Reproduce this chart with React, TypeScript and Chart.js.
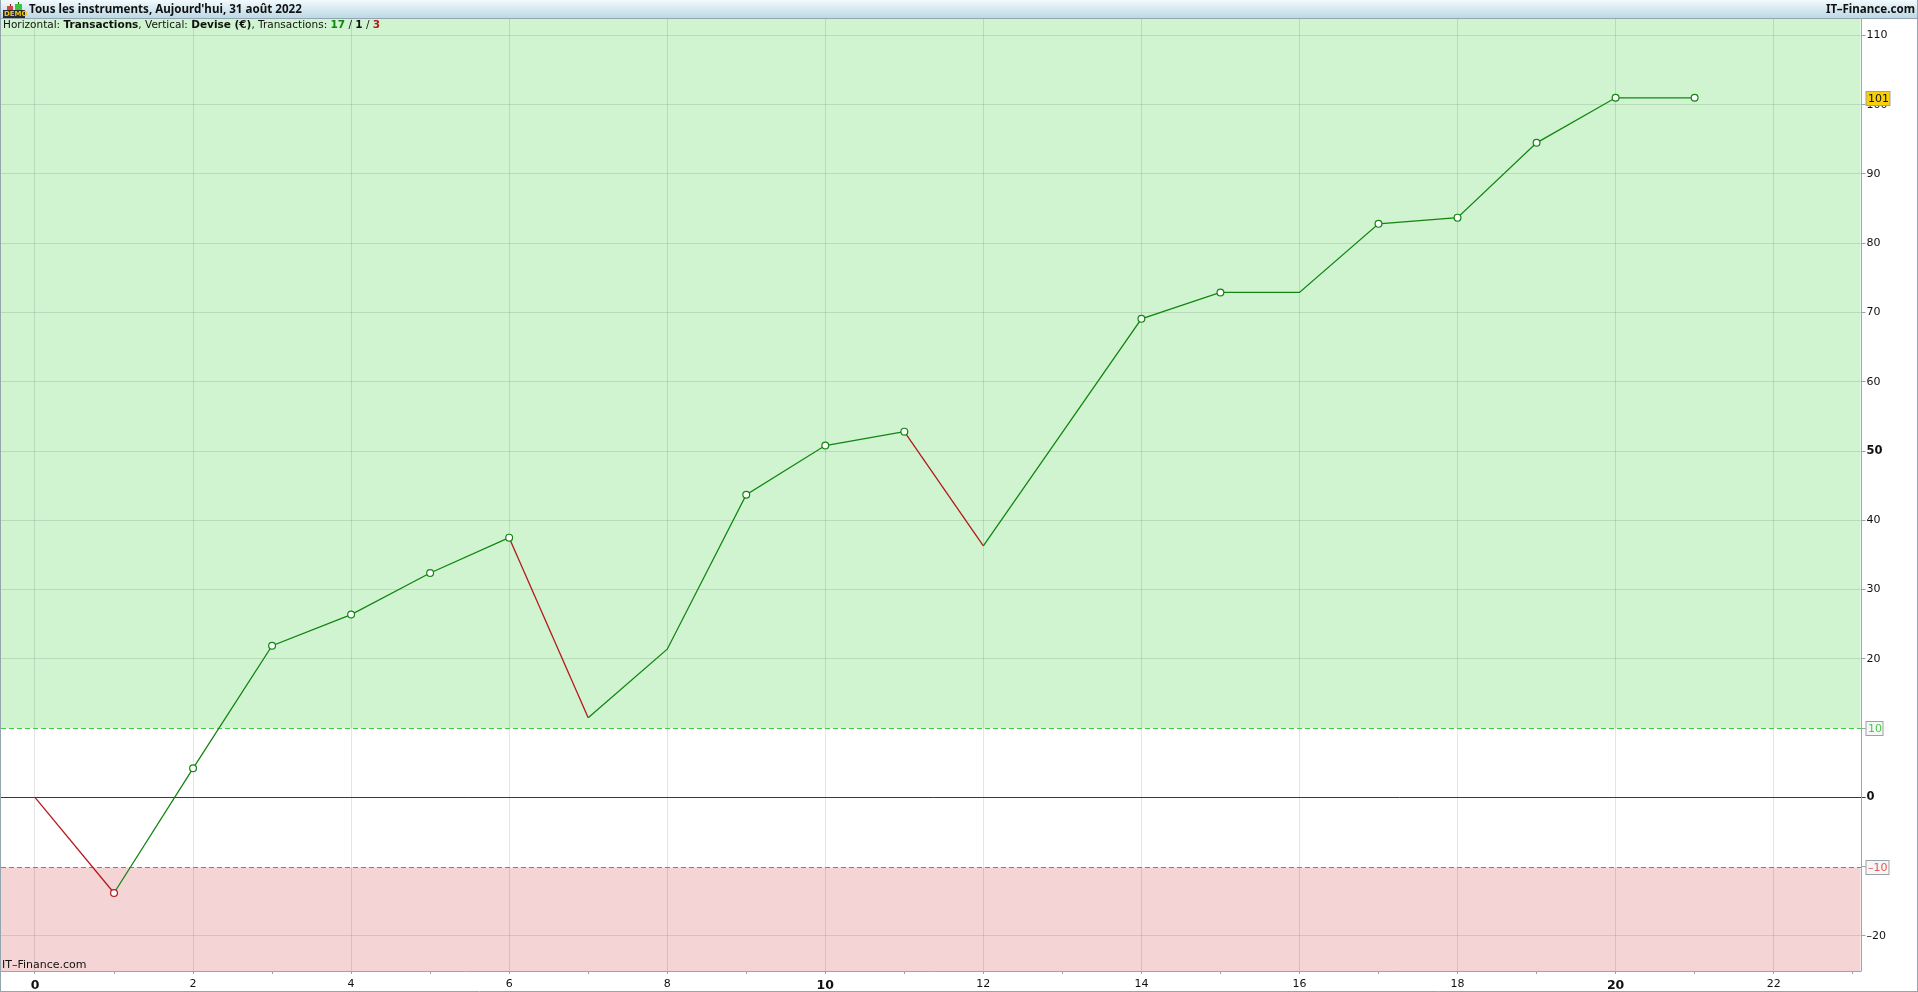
import React, { useEffect, useRef } from "react";
import { Chart, registerables } from "chart.js";

Chart.register(...registerables);

const tradeIndex = [0, 1, 2, 3, 4, 5, 6, 7, 8, 9, 10, 11, 12, 13, 14, 15, 16, 17, 18, 19, 20, 21];
const equity = [0, -13.8, 4.2, 21.9, 26.4, 32.4, 37.5, 11.5, 21.4, 43.7, 50.8, 52.8, 36.3, 52.7, 69.1, 72.9, 72.9, 82.8, 83.7, 94.5, 101, 101];
const markedPoints = [1, 2, 3, 4, 5, 6, 9, 10, 11, 14, 15, 17, 18, 19, 20, 21];
const losingSegments = [0, 6, 11];
const xTickValues = [0, 1, 2, 3, 4, 5, 6, 7, 8, 9, 10, 11, 12, 13, 14, 15, 16, 17, 18, 19, 20, 21, 22, 23];
const yTickValues = [-20, -10, 0, 10, 20, 30, 40, 50, 60, 70, 80, 90, 100, 110];
const boldX = [0, 10, 20];
const boldY = [0, 50];
const upperLimit = 10;
const lowerLimit = -10;
const lastValueLabel = "101";
const titleText = "Tous les instruments, Aujourd'hui, 31 août 2022";
const brandText = "IT–Finance.com";

const FONT = '"DejaVu Sans"';
const TITLE_FONT = '"Noto Sans"';
const GREEN = "#128512";
const RED = "#b3191f";

const decor = {
  id: "decor",
  beforeDraw(chart: any) {
    const { ctx, chartArea: a, scales } = chart;
    const y = scales.y;
    const yUp = Math.round(y.getPixelForValue(upperLimit)) + 0.5;
    const yDn = Math.round(y.getPixelForValue(lowerLimit)) + 0.5;
    ctx.save();
    ctx.fillStyle = "#fff";
    ctx.fillRect(0, 0, chart.width, chart.height);
    ctx.fillStyle = "#d0f4d0";
    ctx.fillRect(a.left, a.top, a.width, yUp - a.top);
    ctx.fillStyle = "#f4d4d4";
    ctx.fillRect(a.left, yDn, a.width, a.bottom - yDn);
    ctx.restore();
  },
  beforeDatasetsDraw(chart: any) {
    const { ctx, chartArea: a, scales } = chart;
    const y = scales.y;
    const hline = (v: number, color: string, dash: number[]) => {
      const p = Math.round(y.getPixelForValue(v)) + 0.5;
      ctx.save();
      ctx.strokeStyle = color;
      ctx.lineWidth = 1;
      ctx.setLineDash(dash);
      ctx.beginPath();
      ctx.moveTo(a.left, p);
      ctx.lineTo(a.right + 5, p);
      ctx.stroke();
      ctx.restore();
    };
    hline(upperLimit, "#45cc45", [5, 3]);
    hline(lowerLimit, "#e85555", [5, 3]);
    hline(0, "#2a2ab8", []);
  },
  afterDraw(chart: any) {
    const { ctx, chartArea: a, scales, width: W, height: H } = chart;
    const y = scales.y;
    ctx.save();
    // title bar
    const g = ctx.createLinearGradient(0, 0, 0, 18);
    g.addColorStop(0, "#f2fafd");
    g.addColorStop(1, "#bcd9e6");
    ctx.fillStyle = g;
    ctx.fillRect(0, 0, W, 18);
    ctx.fillStyle = "#93a6b0";
    ctx.fillRect(0, 18, W, 1);
    // demo icon
    ctx.fillStyle = "#7a1f1f";
    ctx.fillRect(10, 4, 1, 2);
    ctx.fillStyle = "#d04545";
    ctx.fillRect(7, 6, 6, 4);
    ctx.fillStyle = "#14621a";
    ctx.fillRect(18, 2, 1, 2);
    ctx.fillStyle = "#3cc43c";
    ctx.fillRect(15, 4, 7, 6);
    ctx.fillStyle = "#2b2b2b";
    ctx.fillRect(3, 10, 22, 8);
    ctx.fillStyle = "#f4c612";
    ctx.font = `bold 7px ${FONT}`;
    ctx.textAlign = "left";
    ctx.textBaseline = "middle";
    ctx.fillText("DEMO", 4, 14.5);
    // titles
    ctx.fillStyle = "#111";
    ctx.font = `bold 11.6px ${TITLE_FONT}`;
    ctx.fillText(titleText, 29, 10);
    ctx.textAlign = "right";
    ctx.fillText(brandText, 1915, 10);
    // subtitle
    ctx.textAlign = "left";
    const parts: [string, string, string][] = [
      ["Horizontal: ", "normal", "#111"],
      ["Transactions", "bold", "#111"],
      [", Vertical: ", "normal", "#111"],
      ["Devise (€)", "bold", "#111"],
      [", Transactions: ", "normal", "#111"],
      ["17", "bold", GREEN],
      [" / ", "normal", "#111"],
      ["1", "bold", "#111"],
      [" / ", "normal", "#111"],
      ["3", "bold", RED],
    ];
    let x = 3;
    for (const [t, w, c] of parts) {
      ctx.font = `${w} 10.5px ${FONT}`;
      ctx.fillStyle = c;
      ctx.fillText(t, x, 25);
      x += ctx.measureText(t).width;
    }
    // watermark
    ctx.fillStyle = "#111";
    ctx.font = `11px ${FONT}`;
    ctx.fillText(brandText, 2, 965);
    // frame
    const line = (x0: number, y0: number, x1: number, y1: number, c: string) => {
      ctx.strokeStyle = c;
      ctx.lineWidth = 1;
      ctx.beginPath();
      ctx.moveTo(x0, y0);
      ctx.lineTo(x1, y1);
      ctx.stroke();
    };
    const rx = Math.round(a.right) + 0.5;
    const pUp = y.getPixelForValue(upperLimit);
    line(rx, a.top, rx, pUp, "#86b9a0");
    line(rx, pUp, rx, a.bottom, "#98a6ae");
    line(0, a.bottom + 0.5, rx, a.bottom + 0.5, "#98a6ae");
    line(0.5, 0, 0.5, H, "#93a6b0");
    line(W - 0.5, 0, W - 0.5, H, "#93a6b0");
    line(0, H - 0.5, W, H - 0.5, "#93a6b0");
    // value boxes
    const box = (v: number, t: string, bx: number, bw: number, fill: string, text: string) => {
      const cy = y.getPixelForValue(v);
      const by = Math.round(cy - 7) + 0.5;
      ctx.fillStyle = fill;
      ctx.fillRect(bx, by, bw, 14);
      ctx.strokeStyle = "#9aa3a8";
      ctx.strokeRect(bx, by, bw, 14);
      ctx.fillStyle = text;
      ctx.font = `11px ${FONT}`;
      ctx.textAlign = "left";
      ctx.textBaseline = "middle";
      ctx.fillText(t, bx + 2, by + 7.5);
    };
    box(upperLimit, String(upperLimit), 1866, 17, "#f6f6f6", "#45cc45");
    box(lowerLimit, "–" + Math.abs(lowerLimit), 1866, 23, "#f6f6f6", "#e85555");
    box(equity[equity.length - 1], lastValueLabel, 1866, 24, "#f9cf0a", "#111");
    ctx.restore();
  },
};

export default function App() {
  const ref = useRef<HTMLCanvasElement>(null);
  useEffect(() => {
    const chart = new Chart(ref.current as HTMLCanvasElement, {
      type: "line",
      data: {
        datasets: [
          {
            data: tradeIndex.map((x, i) => ({ x, y: equity[i] })),
            borderColor: GREEN,
            borderWidth: 1.3,
            tension: 0,
            pointBackgroundColor: "#fff",
            pointBorderWidth: 1.2,
            pointRadius: (c: any) => (markedPoints.includes(c.dataIndex) ? 3.4 : 0),
            pointBorderColor: (c: any) => (equity[c.dataIndex] < -10 ? RED : GREEN),
            segment: {
              borderColor: (c: any) => (losingSegments.includes(c.p0DataIndex) ? RED : GREEN),
            },
          },
        ],
      },
      options: {
        responsive: false,
        animation: false,
        devicePixelRatio: 1,
        layout: { autoPadding: false, padding: { left: 1, top: 18, right: 0, bottom: 0 } },
        plugins: { legend: { display: false }, tooltip: { enabled: false } },
        scales: {
          x: {
            type: "linear",
            min: -0.43,
            max: 23.099,
            afterBuildTicks(s: any) {
              s.ticks = xTickValues.map((value) => ({ value }));
            },
            afterFit(s: any) {
              s.height = 21;
            },
            border: { display: false },
            grid: {
              color: (c: any) => (c.tick && c.tick.value % 2 === 0 ? "rgba(0,0,0,0.1)" : "rgba(0,0,0,0)"),
              tickColor: "#9aa3a8",
              tickLength: 3,
            },
            ticks: {
              autoSkip: false,
              maxRotation: 0,
              padding: 4,
              color: "#111",
              callback: (v: any) => (Number(v) % 2 === 0 ? String(v) : ""),
              font: (c: any) => ({
                family: FONT,
                size: boldX.includes(c.tick && c.tick.value) ? 12.5 : 11,
                weight: boldX.includes(c.tick && c.tick.value) ? "bold" : "normal",
              }),
            },
          },
          y: {
            type: "linear",
            position: "right",
            min: -25.06,
            max: 112.52,
            afterBuildTicks(s: any) {
              s.ticks = yTickValues.map((value) => ({ value }));
            },
            afterFit(s: any) {
              s.width = 57.5;
            },
            border: { display: false },
            grid: {
              color: (c: any) => (c.tick && Math.abs(c.tick.value) === 10 ? "rgba(0,0,0,0)" : "rgba(0,0,0,0.1)"),
              tickColor: "#9aa3a8",
              tickLength: 5,
            },
            ticks: {
              padding: 1,
              color: "#111",
              callback: (v: any) => (Math.abs(Number(v)) === 10 ? "" : String(v).replace("-", "–")),
              font: (c: any) => ({
                family: FONT,
                size: boldY.includes(c.tick && c.tick.value) ? 11.5 : 11,
                weight: boldY.includes(c.tick && c.tick.value) ? "bold" : "normal",
              }),
            },
          },
        },
      },
      plugins: [decor],
    } as any);
    return () => chart.destroy();
  }, []);
  return (
    <canvas
      ref={ref}
      width={1918}
      height={992}
      style={{ position: "fixed", left: 0, top: 0, width: 1918, height: 992, display: "block" }}
    />
  );
}
